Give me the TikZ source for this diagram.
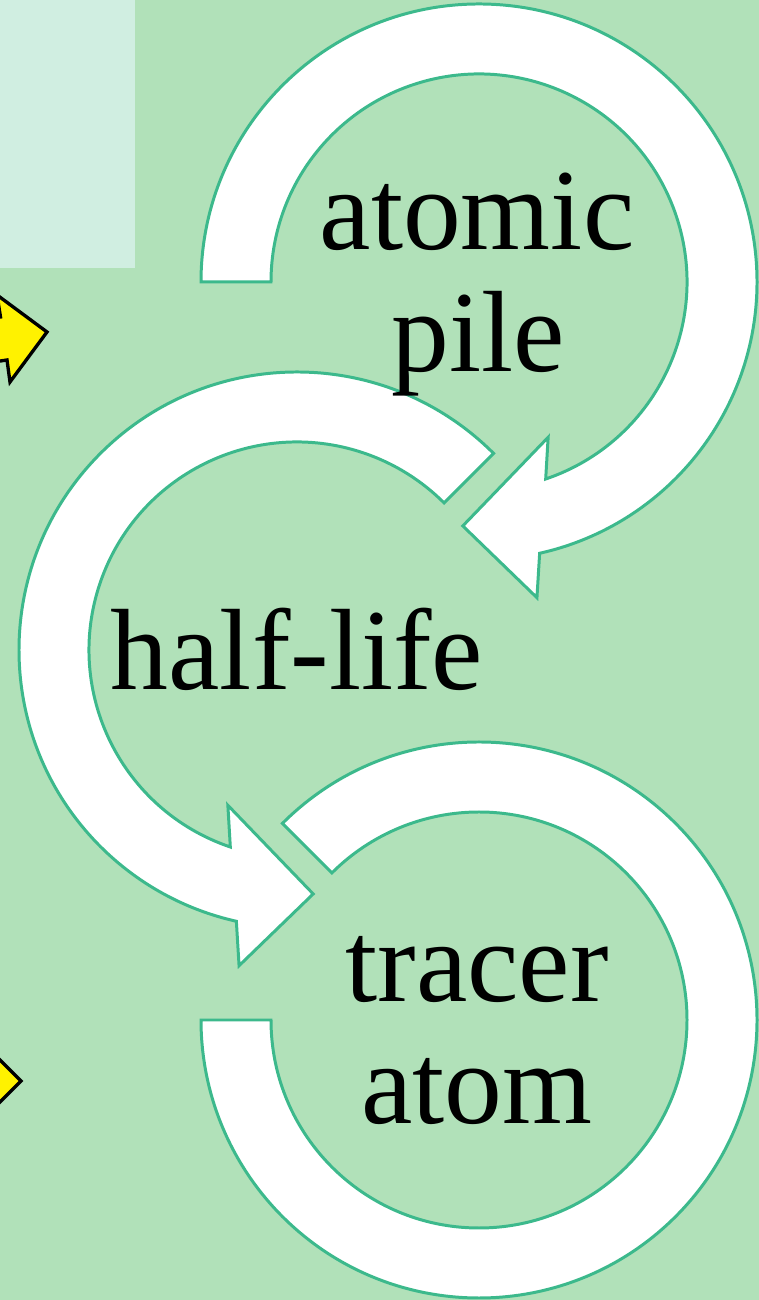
\documentclass[tikz,border=0pt]{standalone}
\usepackage{fontspec}
\setmainfont{Liberation Serif}
\definecolor{slidebg}{HTML}{B1E1B9}
\definecolor{panelbg}{HTML}{D0EEE1}
\definecolor{ringline}{HTML}{3CB98C}
\tikzset{
  ringarrow/.style={fill=white, draw=ringline, line width=1.7pt, line join=miter},
  yellowarrow/.style={fill=yellow, draw=black, line width=1.9pt, line join=miter},
  termtext/.style={inner sep=0pt, anchor=base, font=\fontsize{65.8}{69.2}\selectfont}
}
\begin{document}
\begin{tikzpicture}[x=0.02cm,y=0.02cm]
\useasboundingbox (0,0) rectangle (759,1300);
\clip (0,0) rectangle (759,1300);
\fill[slidebg] (0,0) rectangle (759,1300);
\fill[panelbg] (-5,1032) rectangle (135,1305);

\draw[yellowarrow] (47,968) -- (10,918) -- (7,940) -- (-52,931) -- (-59,974) -- (0.5,983) -- (-3,1005) -- cycle;
\draw[yellowarrow] (21,219) -- (-40,280) -- (-40,158) -- cycle;

\coordinate (c1) at (479,1018);
\coordinate (c2) at (297,650);
\coordinate (c3) at (479,280);

\begin{scope}[shift={(c1)}]
\draw[ringarrow] (180:278) arc[start angle=180, end angle=-77.4, radius=278]
  -- (-79.6:321) -- (-93.8:244.5) -- (-66:170) -- (-71.3:208)
  arc[start angle=-71.3, end angle=180, radius=208] -- cycle;
\end{scope}

\begin{scope}[shift={(c2)}]
\draw[ringarrow] (45:278) arc[start angle=45, end angle=257.4, radius=278]
  -- (259.6:321) -- (273.8:244.5) -- (246:170) -- (251.3:208)
  arc[start angle=251.3, end angle=45, radius=208] -- cycle;
\end{scope}

\begin{scope}[shift={(c3)}]
\draw[ringarrow] (135:278) arc[start angle=135, end angle=-180, radius=278]
  -- (-180:208) arc[start angle=-180, end angle=135, radius=208] -- cycle;
\end{scope}

\node[termtext] (atomic) at (477,1050) {atomic};
\node[termtext] (pile) at (478,928) {pile};
\node[termtext] (halflife) at (297,610) {half-life};
\node[termtext] (tracer) at (477,298) {tracer};
\node[termtext] (atom) at (477,176) {atom};
\end{tikzpicture}
\end{document}
